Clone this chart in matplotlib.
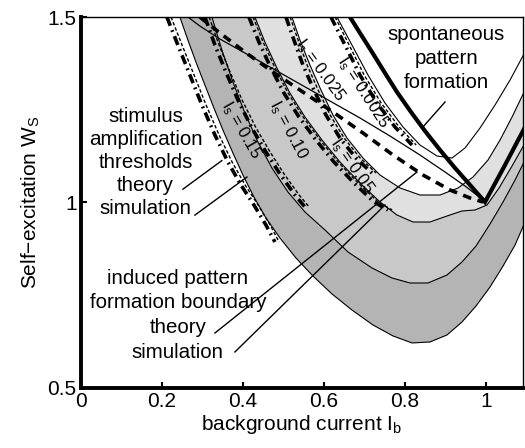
import matplotlib
matplotlib.use("Agg")
import matplotlib.pyplot as plt
import matplotlib.transforms as mtransforms

plt.rcParams['font.family'] = ['Liberation Sans', 'DejaVu Sans']
plt.rcParams['mathtext.fontset'] = 'custom'
plt.rcParams['mathtext.rm'] = 'Liberation Sans'
plt.rcParams['mathtext.it'] = 'Liberation Sans:italic'

# stimulus amplification threshold curves (U shaped), one per stimulus I_s
u015_x = [0.2444, 0.2642, 0.2840, 0.3062, 0.3284, 0.3506, 0.3753, 0.4000, 0.4272, 0.4568, 0.4914, 0.5309, 0.5728,
          0.6198, 0.6691, 0.7210, 0.7704, 0.8173, 0.8617, 0.9037, 0.9407, 0.9753, 1.0099, 1.0420, 1.0716, 1.0963]
u015_y = [1.5000, 1.4380, 1.3787, 1.3167, 1.2547, 1.1954, 1.1334, 1.0741, 1.0148, 0.9582, 0.9043, 0.8504, 0.8019,
          0.7534, 0.7102, 0.6698, 0.6402, 0.6213, 0.6240, 0.6429, 0.6779, 0.7210, 0.7722, 0.8288, 0.8854, 0.9474]
u010_x = [0.3235, 0.3481, 0.3753, 0.4049, 0.4370, 0.4716, 0.5111, 0.5531, 0.6025, 0.6593, 0.7185, 0.7679, 0.8123,
          0.8568, 0.9037, 0.9407, 0.9753, 1.0099, 1.0420, 1.0716, 1.0963]
u010_y = [1.5000, 1.4111, 1.3248, 1.2412, 1.1631, 1.0930, 1.0283, 0.9744, 0.9259, 0.8666, 0.8235, 0.7965, 0.7830,
          0.7830, 0.8046, 0.8396, 0.8827, 0.9420, 1.0013, 1.0606, 1.1146]
u005_x = [0.4296, 0.4543, 0.4840, 0.5160, 0.5531, 0.5951, 0.6395, 0.6889, 0.7383, 0.7802, 0.8198, 0.8617, 0.9037,
          0.9407, 0.9728, 1.0025, 1.0321, 1.0642, 1.0963]
u005_y = [1.5000, 1.4326, 1.3625, 1.2951, 1.2305, 1.1685, 1.1092, 1.0526, 1.0013, 0.9663, 0.9474, 0.9474, 0.9636,
          0.9771, 0.9798, 0.9933, 1.0391, 1.0984, 1.1604]
u0025_x = [0.5210, 0.5407, 0.5654, 0.5926, 0.6222, 0.6568, 0.6963, 0.7383, 0.7877, 0.8370, 0.8864, 0.9309, 0.9679,
           1.0049, 1.0346, 1.0642, 1.0963]
u0025_y = [1.5000, 1.4380, 1.3706, 1.3032, 1.2358, 1.1739, 1.1199, 1.0741, 1.0391, 1.0202, 1.0202, 1.0391, 1.0687,
           1.1146, 1.1685, 1.2305, 1.3032]
u00025_x = [0.6321, 0.6691, 0.7086, 0.7506, 0.7951, 0.8370, 0.8790, 0.9160, 0.9481, 0.9852, 1.0222, 1.0593, 1.0963]
u00025_y = [1.5000, 1.4245, 1.3437, 1.2682, 1.2035, 1.1550, 1.1253, 1.1199, 1.1469, 1.2008, 1.2628, 1.3302, 1.4057]

# threshold theory (left branches only)
th015_x = [0.2123, 0.2395, 0.2691, 0.2988, 0.3309, 0.3630, 0.3951, 0.4272, 0.4568, 0.4790]
th015_y = [1.5000, 1.4245, 1.3437, 1.2628, 1.1819, 1.1092, 1.0472, 0.9933, 0.9394, 0.8935]
th010_x = [0.3062, 0.3309, 0.3580, 0.3877, 0.4222, 0.4568, 0.4914, 0.5284, 0.5531]
th010_y = [1.5000, 1.4245, 1.3518, 1.2763, 1.2008, 1.1361, 1.0768, 1.0202, 0.9879]
th005_x = [0.4148, 0.4395, 0.4691, 0.5012, 0.5383, 0.5802, 0.6247, 0.6741, 0.7235, 0.7580]
th005_y = [1.5000, 1.4326, 1.3625, 1.2951, 1.2305, 1.1685, 1.1092, 1.0526, 1.0013, 0.9798]
th0025_x = [0.5062, 0.5259, 0.5481, 0.5753, 0.6049, 0.6395, 0.6790, 0.7185]
th0025_y = [1.5000, 1.4380, 1.3706, 1.3032, 1.2358, 1.1739, 1.1199, 1.0795]
th00025_x = [0.6173, 0.6519, 0.6889, 0.7309, 0.7753, 0.8173]
th00025_y = [1.5000, 1.4245, 1.3437, 1.2682, 1.2035, 1.1550]

# induced pattern formation boundary: theory and simulation
ind_x = [0.2642, 0.2938, 0.3432, 0.4049, 0.4667, 0.5407, 0.6148, 0.6889, 0.7630, 0.8370, 0.8988, 0.9481, 0.9802, 0.9975]
ind_y = [1.5000, 1.4757, 1.4407, 1.4030, 1.3652, 1.3194, 1.2736, 1.2278, 1.1792, 1.1280, 1.0822, 1.0445, 1.0175, 1.0040]
ind_sim_x = [0.2938, 0.3432, 0.4049, 0.4741, 0.5481, 0.6222, 0.6963, 0.7704, 0.8444, 0.9111, 0.9605, 0.9926]
ind_sim_y = [1.5000, 1.4569, 1.4057, 1.3518, 1.2978, 1.2439, 1.1873, 1.1280, 1.0741, 1.0337, 1.0121, 1.0013]

# spontaneous pattern formation boundary
sp_x = [0.6642, 0.6889, 0.7185, 0.7506, 0.7802, 0.8148, 0.8494, 0.8864, 0.9235, 0.9605, 0.9975, 1.0469, 1.0963]
sp_y = [1.5000, 1.4569, 1.4057, 1.3491, 1.2978, 1.2439, 1.1927, 1.1415, 1.0930, 1.0472, 1.0013, 1.1011, 1.2035]

is_labels = ['0.15', '0.10', '0.05', '0.025', '0.0025']

XMAX = 1.091
fig = plt.figure(figsize=(5.25, 4.48), dpi=100)
ax = fig.add_axes([0.154, 0.134, 0.842, 0.828])
ax.set_xlim(0, XMAX)
ax.set_ylim(0.5, 1.5)

# shaded bands between consecutive threshold curves
bands = [(u015_x, u015_y, '#b4b4b4'), (u010_x, u010_y, '#c8c8c8'),
         (u005_x, u005_y, '#e0e0e0'), (u0025_x, u0025_y, 'white')]
for ux, uy, col in bands:
    px = [ux[0]] + ux + [1.2, 1.2]
    py = [1.6] + uy + [uy[-1], 1.6]
    ax.fill(px, py, color=col, lw=0, zorder=1)

for ux, uy in [(u015_x, u015_y), (u010_x, u010_y), (u005_x, u005_y), (u0025_x, u0025_y), (u00025_x, u00025_y)]:
    ax.plot(ux, uy, color='k', lw=0.8, zorder=3)

# simulation thresholds drawn a couple of pixels right of the theory curves
shift = ax.transData + mtransforms.ScaledTranslation(3 / 72, 0, fig.dpi_scale_trans)
for tx, ty in [(th015_x, th015_y), (th010_x, th010_y), (th005_x, th005_y),
               (th0025_x, th0025_y), (th00025_x, th00025_y)]:
    ax.plot(tx, ty, color='k', lw=2.6, ls=(0, (2.6, 1.3, 0.5, 1.3)), zorder=4)
    ax.plot(tx, ty, color='k', lw=1.0, ls=(0, (2.5, 1.5)), zorder=4, transform=shift)

ax.plot(ind_x, ind_y, color='k', lw=0.9, zorder=4)
ax.plot(ind_sim_x, ind_sim_y, color='k', lw=2.6, ls=(0, (2.4, 1.8)), zorder=4)
ax.plot(sp_x, sp_y, color='k', lw=3, zorder=5, solid_joinstyle='miter')

label_pos = [(0.396, 1.195, -60), (0.511, 1.195, -62), (0.669, 1.100, -55), (0.590, 1.357, -54), (0.696, 1.298, -57)]
for lab, (lx, ly, rot) in zip(is_labels, label_pos):
    ax.text(lx, ly, r'I$_{\mathrm{s}}$ = ' + lab, rotation=rot, fontsize=12,
            ha='center', va='center', rotation_mode='anchor', zorder=6)

fs = 14.8
for txt, yb in zip(['spontaneous', 'pattern', 'formation'], [1.438, 1.3733, 1.3086]):
    ax.text(0.902, yb, txt, ha='center', va='baseline', fontsize=fs, zorder=6)
ax.plot([0.8988, 0.8420], [1.2709, 1.2008], color='k', lw=1, zorder=6)

for txt, yb in zip(['stimulus', 'amplification', 'thresholds', 'theory', 'simulation'],
                   [1.217, 1.155, 1.093, 1.031, 0.969]):
    ax.text(0.160, yb, txt, ha='center', va='baseline', fontsize=fs, zorder=6)
ax.plot([0.252, 0.348], [1.036, 1.113], color='k', lw=1, zorder=6)
ax.plot([0.2815, 0.4099], [0.966, 1.0687], color='k', lw=1, zorder=6)

for txt, yb in zip(['induced pattern', 'formation boundary', 'theory', 'simulation'],
                   [0.7803, 0.7156, 0.6482, 0.5809]):
    ax.text(0.2395, yb, txt, ha='center', va='baseline', fontsize=fs, zorder=6)
ax.plot([0.3309, 0.8296], [0.6482, 1.0822], color='k', lw=1, zorder=6)
ax.plot([0.3802, 0.7506], [0.5970, 0.9933], color='k', lw=1, zorder=6)

ax.set_xticks([0, 0.2, 0.4, 0.6, 0.8, 1])
ax.set_xticklabels(['0', '0.2', '0.4', '0.6', '0.8', '1'])
ax.set_yticks([0.5, 1, 1.5])
ax.set_yticklabels(['0.5', '1', '1.5'])
ax.tick_params(direction='in', length=4, width=1.5, labelsize=15, pad=3)
ax.set_xlabel(r'background current I$_{\mathrm{b}}$', fontsize=15, labelpad=1)
ax.set_ylabel(r'Self$-$excitation W$_{\mathrm{S}}$', fontsize=15, labelpad=4)
for side in ['left', 'bottom']:
    ax.spines[side].set_linewidth(2.8)
for side in ['top', 'right']:
    ax.spines[side].set_linewidth(1)
for sp in ax.spines.values():
    sp.set_zorder(7)

fig.savefig('out.png', dpi=100)
